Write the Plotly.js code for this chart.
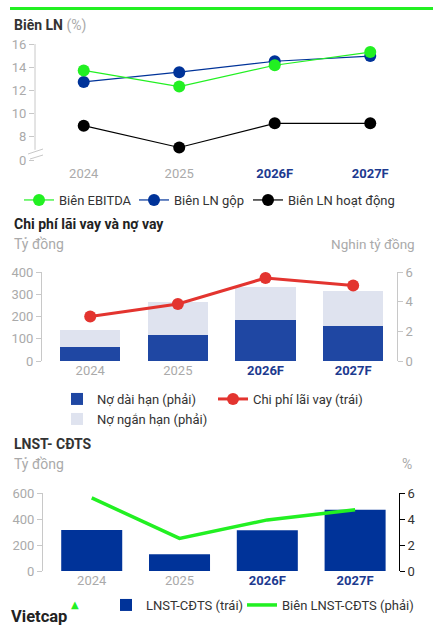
<!DOCTYPE html>
<html><head><meta charset="utf-8">
<script src="https://cdn.plot.ly/plotly-3.0.1.min.js"></script>
<style>
html,body{margin:0;padding:0;background:#fff;width:433px;height:632px;overflow:hidden;font-family:Roboto,sans-serif;}
#topline{position:absolute;left:10px;top:7px;width:423px;height:3px;background:#22f022;}
.c{position:absolute;left:0;width:433px;}
</style></head><body>
<div id="topline"></div>
<div id="c1" class="c" style="top:0;height:210px"></div>
<div id="c2" class="c" style="top:210px;height:220px"></div>
<div id="c3" class="c" style="top:430px;height:202px"></div>
<script>
// ---- data ----
const years = ['2024', '2025', '2026F', '2027F'];
const yearLabels = [
  "<span style='color:#aaaaaa'>2024</span>",
  "<span style='color:#aaaaaa'>2025</span>",
  "<b style='color:#1d3a8f'>2026F</b>",
  "<b style='color:#1d3a8f'>2027F</b>"
];
// Chart 1: Biên LN (%)
const bienEBITDA = [13.7, 12.3, 14.15, 15.3];
const bienLNGop = [12.7, 13.55, 14.5, 14.95];
const bienLNHoatDong = [8.9, 7.0, 9.1, 9.1];
const chart1Ticks = [5.91, 8, 10, 12, 14, 16];
const chart1TickText = ['0', '8', '10', '12', '14', '16'];
// Chart 2: Chi phí lãi vay và nợ vay
const noDaiHan = [0.94, 1.75, 2.79, 2.36];     // nghìn tỷ đồng (phải)
const noNganHan = [1.18, 2.23, 2.18, 2.34];    // nghìn tỷ đồng (phải)
const chiPhiLaiVay = [200, 256, 373, 339];     // tỷ đồng (trái)
// Chart 3: LNST-CĐTS
const lnstCDTS = [316, 128, 313, 471];         // tỷ đồng (trái)
const bienLNSTCDTS = [5.62, 2.51, 3.93, 4.71]; // % (phải)

const FONT = 'Roboto, sans-serif';
const GREEN = '#22f022', BLUE = '#003399', BLACK = '#000000';
const GRAY = '#aaaaaa', AXC = '#c8c8c8';
const cfg = {staticPlot: true, displayModeBar: false};

function xaxisCommon(range) {
  return {type: 'category', range: range, showgrid: false, zeroline: false, showline: false,
    ticks: '', tickmode: 'array', tickvals: years, ticktext: yearLabels,
    tickfont: {family: FONT, size: 13}, fixedrange: true};
}
function legendAt(x, y) {
  return {orientation: 'h', x: x, y: y, xanchor: 'left', yanchor: 'middle',
    bgcolor: 'rgba(0,0,0,0)', font: {family: FONT, size: 13, color: '#333'}, borderwidth: 0};
}

// ---- Chart 1 ----
(function () {
  const W = 433, l = 35, r = 15, t = 40, b = 46, H = 210;
  const pw = W - l - r, ph = H - t - b;
  const px = v => (v - l) / pw;        // page x -> paper x
  const py = v => (H - b - v) / ph;    // div y -> paper y
  const ymin = 5.565, ymax = 16.348;
  const mk = (name, y, color, lg) => ({
    type: 'scatter', mode: 'lines+markers', x: years, y: y, name: name,
    line: {color: color, width: 1.2}, marker: {color: color, size: 12},
    legend: lg, cliponaxis: false
  });
  const data = [
    mk('Biên LN hoạt động', bienLNHoatDong, BLACK, 'legend3'),
    mk('Biên LN gộp', bienLNGop, BLUE, 'legend2'),
    mk('Biên EBITDA', bienEBITDA, GREEN, 'legend')
  ];
  const layout = {
    width: W, height: H, margin: {l: l, r: r, t: t, b: b, autoexpand: false},
    paper_bgcolor: 'rgba(0,0,0,0)', plot_bgcolor: 'rgba(0,0,0,0)',
    font: {family: FONT},
    xaxis: xaxisCommon([-0.51, 3.5]),
    yaxis: {range: [ymin, ymax], tickmode: 'array', tickvals: chart1Ticks, ticktext: chart1TickText,
      showgrid: false, zeroline: false, showline: false, ticks: 'outside', ticklen: 5, tickcolor: AXC,
      tickfont: {family: FONT, size: 13, color: GRAY}, fixedrange: true},
    showlegend: true,
    legend: legendAt(px(19), py(200)),
    legend2: legendAt(px(134), py(200)),
    legend3: legendAt(px(248), py(200)),
    shapes: [
      {type: 'line', xref: 'paper', yref: 'y', x0: 0, x1: 0, y0: 6.8, y1: 16, line: {color: AXC, width: 1}},
      {type: 'line', xref: 'paper', yref: 'paper', x0: px(28), x1: px(43), y0: py(154), y1: py(149), line: {color: AXC, width: 1}},
      {type: 'line', xref: 'paper', yref: 'paper', x0: px(30), x1: px(43), y0: py(159), y1: py(155), line: {color: AXC, width: 1}}
    ],
    annotations: [
      {xref: 'paper', yref: 'paper', x: px(12), y: py(25), xanchor: 'left', yanchor: 'middle', showarrow: false,
        text: "<b>Biên LN</b> <span style='color:#aaaaaa'>(%)</span>", font: {family: FONT, size: 14, color: '#333'}}
    ]
  };
  Plotly.newPlot('c1', data, layout, cfg);
})();

// ---- Chart 2 ----
(function () {
  const W = 433, l = 42, r = 36, t = 62, b = 69, H = 220;
  const pw = W - l - r, ph = H - t - b;
  const px = v => (v - l) / pw;
  const py = v => (H - b - v) / ph;
  const data = [
    {type: 'bar', x: years, y: noDaiHan, name: 'Nợ dài hạn (phải)', marker: {color: '#1f47a3'},
      yaxis: 'y', width: 0.69, legend: 'legend'},
    {type: 'bar', x: years, y: noNganHan, name: 'Nợ ngắn hạn (phải)', marker: {color: '#dfe3ef'},
      yaxis: 'y', width: 0.69, legend: 'legend3'},
    {type: 'scatter', mode: 'lines+markers', x: years, y: chiPhiLaiVay, name: 'Chi phí lãi vay (trái)',
      line: {color: '#e3342f', width: 3}, marker: {color: '#e3342f', size: 12}, yaxis: 'y2',
      legend: 'legend2', cliponaxis: false}
  ];
  const layout = {
    width: W, height: H, margin: {l: l, r: r, t: t, b: b, autoexpand: false},
    paper_bgcolor: 'rgba(0,0,0,0)', plot_bgcolor: 'rgba(0,0,0,0)',
    font: {family: FONT}, barmode: 'stack', bargap: 0.31,
    xaxis: xaxisCommon([-0.55, 3.5]),
    yaxis: {side: 'right', range: [0, 6], tickvals: [0, 2, 4, 6], showgrid: false, zeroline: false,
      showline: true, linecolor: AXC, ticks: 'outside', ticklen: 5, tickcolor: AXC,
      tickfont: {family: FONT, size: 13, color: GRAY}, fixedrange: true},
    yaxis2: {side: 'left', overlaying: 'y', range: [0, 400], tickvals: [0, 100, 200, 300, 400], showgrid: false,
      zeroline: false, showline: true, linecolor: AXC, ticks: 'outside', ticklen: 5, tickcolor: AXC,
      tickfont: {family: FONT, size: 13, color: GRAY}, fixedrange: true},
    showlegend: true,
    legend: legendAt(px(57), py(189)),
    legend2: legendAt(px(213), py(189)),
    legend3: legendAt(px(57), py(209)),
    annotations: [
      {xref: 'paper', yref: 'paper', x: px(12), y: py(14), xanchor: 'left', yanchor: 'middle', showarrow: false,
        text: '<b>Chi phí lãi vay và nợ vay</b>', font: {family: FONT, size: 14, color: '#222'}},
      {xref: 'paper', yref: 'paper', x: px(12), y: py(34), xanchor: 'left', yanchor: 'middle', showarrow: false,
        text: 'Tỷ đồng', font: {family: FONT, size: 14, color: GRAY}},
      {xref: 'paper', yref: 'paper', x: px(417), y: py(34), xanchor: 'right', yanchor: 'middle', showarrow: false,
        text: 'Nghin tỷ đồng', font: {family: FONT, size: 13.5, color: GRAY}}
    ]
  };
  Plotly.newPlot('c2', data, layout, cfg);
})();

// ---- Chart 3 ----
(function () {
  const W = 433, l = 43, r = 34, t = 63, b = 61, H = 202;
  const pw = W - l - r, ph = H - t - b;
  const px = v => (v - l) / pw;
  const py = v => (H - b - v) / ph;
  const data = [
    {type: 'bar', x: years, y: lnstCDTS, name: 'LNST-CĐTS (trái)', marker: {color: BLUE},
      width: 0.695, yaxis: 'y', legend: 'legend'},
    {type: 'scatter', mode: 'lines', x: years, y: bienLNSTCDTS, name: 'Biên LNST-CĐTS (phải)',
      line: {color: GREEN, width: 3.5}, yaxis: 'y2', legend: 'legend2', cliponaxis: false}
  ];
  const layout = {
    width: W, height: H, margin: {l: l, r: r, t: t, b: b, autoexpand: false},
    paper_bgcolor: 'rgba(0,0,0,0)', plot_bgcolor: 'rgba(0,0,0,0)',
    font: {family: FONT},
    xaxis: xaxisCommon([-0.555, 3.5]),
    yaxis: {range: [0, 600], tickvals: [0, 200, 400, 600], showgrid: false, zeroline: false,
      showline: true, linecolor: AXC, ticks: 'outside', ticklen: 5, tickcolor: AXC,
      tickfont: {family: FONT, size: 13, color: GRAY}, fixedrange: true},
    yaxis2: {side: 'right', overlaying: 'y', range: [0, 6], tickvals: [0, 2, 4, 6], showgrid: false,
      zeroline: false, showline: true, linecolor: '#000', ticks: 'outside', ticklen: 5, tickcolor: '#000',
      tickfont: {family: FONT, size: 13, color: '#333'}, fixedrange: true},
    showlegend: true,
    legend: legendAt(px(106), py(175)),
    legend2: legendAt(px(242), py(175)),
    annotations: [
      {xref: 'paper', yref: 'paper', x: px(12), y: py(14), xanchor: 'left', yanchor: 'middle', showarrow: false,
        text: '<b>LNST- CĐTS</b>', font: {family: FONT, size: 14, color: '#333'}},
      {xref: 'paper', yref: 'paper', x: px(12), y: py(34), xanchor: 'left', yanchor: 'middle', showarrow: false,
        text: 'Tỷ đồng', font: {family: FONT, size: 14, color: GRAY}},
      {xref: 'paper', yref: 'paper', x: px(414), y: py(34), xanchor: 'right', yanchor: 'middle', showarrow: false,
        text: '%', font: {family: FONT, size: 14, color: GRAY}},
      {xref: 'paper', yref: 'paper', x: px(9), y: py(186), xanchor: 'left', yanchor: 'middle', showarrow: false,
        text: '<b>Vietcap</b>', font: {family: FONT, size: 16.5, color: '#222'}},
      {xref: 'paper', yref: 'paper', x: px(75), y: py(174), xanchor: 'center', yanchor: 'middle', showarrow: false,
        text: '▲', font: {family: 'DejaVu Sans', size: 10, color: GREEN}}
    ]
  };
  Plotly.newPlot('c3', data, layout, cfg);
})();
</script>
</body></html>
